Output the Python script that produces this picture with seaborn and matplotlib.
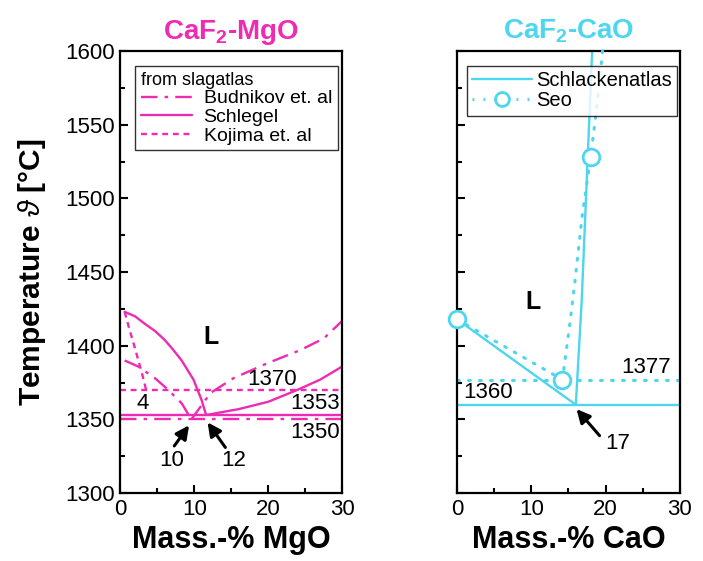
import matplotlib
matplotlib.use("Agg")
import matplotlib.pyplot as plt
from matplotlib.ticker import MultipleLocator
from matplotlib.lines import Line2D
import seaborn as sns

# CaF2-MgO (left panel)
budnikov_liq_x = [0.6, 2.4, 4.7, 6.5, 8.3, 9.6]
budnikov_liq_t = [1390, 1386, 1378, 1370, 1361, 1350]
budnikov_mgo_x = [9.6, 12.2, 15.3, 19.8, 24.3, 27.5, 30]
budnikov_mgo_t = [1350, 1368, 1378, 1388, 1397, 1405, 1417]
budnikov_eut = 1350
schlegel_liq_x = [0.6, 2.0, 3.3, 4.7, 6.0, 7.2, 8.3, 9.9, 11.0, 11.6]
schlegel_liq_t = [1423, 1420, 1415, 1410, 1404, 1397, 1390, 1377, 1363, 1353]
schlegel_mgo_x = [11.6, 16, 20, 23.9, 27, 30]
schlegel_mgo_t = [1353, 1357, 1362, 1370, 1377, 1386]
schlegel_eut = 1353
kojima_x = [0.6, 1.2, 1.9, 2.9, 3.5]
kojima_t = [1423, 1412, 1400, 1382, 1370]
kojima_eut = 1370

# CaF2-CaO (right panel)
atlas_liq_x = [0, 16]
atlas_liq_t = [1418, 1360]
atlas_cao_x = [16, 16.8, 18.2]
atlas_cao_t = [1360, 1431, 1600]
atlas_eut = 1360
seo_x = [0, 14.2, 15.2, 15.8, 16.9, 18.0, 18.9, 19.6]
seo_t = [1418, 1377, 1415, 1440, 1490, 1528, 1565, 1600]
seo_marked = [0, 1, 5]
seo_eut = 1377

MAG = "#EE2CB2"
CYA = "#4DD6EE"

sns.set_style("ticks")
plt.rcParams["font.family"] = ["Liberation Sans", "DejaVu Sans"]
plt.rcParams["mathtext.fontset"] = "custom"
plt.rcParams["mathtext.rm"] = "Liberation Sans"
plt.rcParams["mathtext.bf"] = "Liberation Sans:bold"
plt.rcParams["mathtext.it"] = "Liberation Sans:italic"
plt.rcParams["text.color"] = "black"
plt.rcParams["axes.labelcolor"] = "black"
plt.rcParams["xtick.color"] = "black"
plt.rcParams["ytick.color"] = "black"

fig = plt.figure(figsize=(7.03, 5.61), dpi=100)
ax1 = fig.add_axes([0.171, 0.121, 0.316, 0.788])
ax2 = fig.add_axes([0.650, 0.121, 0.317, 0.788])

dashdot = (7, 3, 1.5, 3)
dashed = (2.5, 2)
dotted = (0, (0.6, 3.0))
lw = 1.7

# left panel curves
sns.lineplot(x=budnikov_liq_x, y=budnikov_liq_t, ax=ax1, color=MAG, lw=lw, sort=False, estimator=None)
ax1.lines[-1].set_dashes(dashdot)
sns.lineplot(x=budnikov_mgo_x, y=budnikov_mgo_t, ax=ax1, color=MAG, lw=lw, sort=False, estimator=None)
ax1.lines[-1].set_dashes(dashdot)
ax1.axhline(budnikov_eut, color=MAG, lw=lw, dashes=dashdot)
sns.lineplot(x=schlegel_liq_x, y=schlegel_liq_t, ax=ax1, color=MAG, lw=lw, sort=False, estimator=None)
sns.lineplot(x=schlegel_mgo_x, y=schlegel_mgo_t, ax=ax1, color=MAG, lw=lw, sort=False, estimator=None)
ax1.axhline(schlegel_eut, color=MAG, lw=lw)
sns.lineplot(x=kojima_x, y=kojima_t, ax=ax1, color=MAG, lw=lw, sort=False, estimator=None)
ax1.lines[-1].set_dashes(dashed)
ax1.axhline(kojima_eut, color=MAG, lw=lw, dashes=dashed)

# right panel curves
sns.lineplot(x=atlas_liq_x, y=atlas_liq_t, ax=ax2, color=CYA, lw=lw, sort=False, estimator=None)
sns.lineplot(x=atlas_cao_x, y=atlas_cao_t, ax=ax2, color=CYA, lw=lw, sort=False, estimator=None)
ax2.axhline(atlas_eut, color=CYA, lw=lw)
ax2.plot(seo_x, seo_t, color=CYA, lw=2.2, ls=dotted, dash_capstyle="round",
         marker="o", markevery=seo_marked, ms=12, mfc="white", mec=CYA, mew=2, clip_on=False, zorder=4)
ax2.axhline(seo_eut, color=CYA, lw=2.2, ls=dotted, dash_capstyle="round")

for ax in (ax1, ax2):
    ax.set_xlim(0, 30)
    ax.set_ylim(1300, 1600)
    ax.xaxis.set_major_locator(MultipleLocator(10))
    ax.xaxis.set_minor_locator(MultipleLocator(5))
    ax.yaxis.set_major_locator(MultipleLocator(50))
    ax.yaxis.set_minor_locator(MultipleLocator(25))
    ax.tick_params(which="both", direction="in", width=1.5, labelsize=16, pad=4)
    ax.tick_params(which="major", length=6)
    ax.tick_params(which="minor", length=3.5)
    for s in ax.spines.values():
        s.set_linewidth(1.6)
        s.set_color("black")

ax2.tick_params(labelleft=False)

ax1.set_xlabel("Mass.-% MgO", fontsize=22, fontweight="bold", labelpad=4)
ax2.set_xlabel("Mass.-% CaO", fontsize=22, fontweight="bold", labelpad=4)
ax1.set_ylabel(r"Temperature $\vartheta$ [°C]", fontsize=21.5, fontweight="bold", labelpad=12)
ax1.set_title(r"CaF$_{\mathbf{2}}$-MgO", fontsize=20, fontweight="bold", color=MAG, pad=9)
ax2.set_title(r"CaF$_{\mathbf{2}}$-CaO", fontsize=20, fontweight="bold", color=CYA, pad=9)

# annotations left
fs = 16
ax1.text(12.2, 1406, "L", fontsize=18, fontweight="bold", ha="center", va="center")
ax1.text(20.5, 1377, "1370", fontsize=fs, ha="center", va="center")
ax1.text(26.3, 1361, "1353", fontsize=fs, ha="center", va="center")
ax1.text(26.3, 1341, "1350", fontsize=fs, ha="center", va="center")
ax1.text(3.1, 1361, "4", fontsize=fs, ha="center", va="center")
ax1.text(7.0, 1322, "10", fontsize=fs, ha="center", va="center")
ax1.text(15.3, 1322, "12", fontsize=fs, ha="center", va="center")
arrow = dict(arrowstyle="-|>,head_length=0.8,head_width=0.4", color="black", lw=2.2, shrinkA=0, shrinkB=0)
ax1.annotate("", xy=(9.3, 1346), xytext=(7.3, 1332), arrowprops=arrow)
ax1.annotate("", xy=(11.8, 1348), xytext=(14.2, 1331), arrowprops=arrow)

# annotations right
ax2.text(10.2, 1430, "L", fontsize=18, fontweight="bold", ha="center", va="center")
ax2.text(25.5, 1385.5, "1377", fontsize=fs, ha="center", va="center")
ax2.text(4.2, 1368, "1360", fontsize=fs, ha="center", va="center")
ax2.text(21.7, 1334, "17", fontsize=fs, ha="center", va="center")
ax2.annotate("", xy=(16.1, 1357), xytext=(19.2, 1339), arrowprops=arrow)

# legends
h1 = [Line2D([], [], color=MAG, lw=lw, dashes=dashdot),
      Line2D([], [], color=MAG, lw=lw),
      Line2D([], [], color=MAG, lw=lw, dashes=dashed)]
leg1 = ax1.legend(h1, ["Budnikov et. al", "Schlegel", "Kojima et. al"], title="from slagatlas",
                  loc="upper left", bbox_to_anchor=(0.025, 0.988), fontsize=14, title_fontsize=13,
                  frameon=True, fancybox=False, edgecolor="black", handlelength=2.6,
                  borderpad=0.3, labelspacing=0.05, handletextpad=0.6, alignment="left")
leg1.get_frame().set_linewidth(1.0)
leg1.get_title().set_color("black")

h2 = [Line2D([], [], color=CYA, lw=lw),
      Line2D([], [], color=CYA, lw=2.2, ls=dotted, marker="o", ms=10, mfc="white", mec=CYA, mew=2)]
leg2 = ax2.legend(h2, ["Schlackenatlas", "Seo"], loc="upper left", bbox_to_anchor=(0.0, 0.988),
                  fontsize=14.5, frameon=True, fancybox=False, edgecolor="black", handlelength=3.0,
                  borderpad=0.25, labelspacing=0.05, handletextpad=0.2)
leg2.get_frame().set_linewidth(1.0)

fig.savefig("out.png", dpi=100)
